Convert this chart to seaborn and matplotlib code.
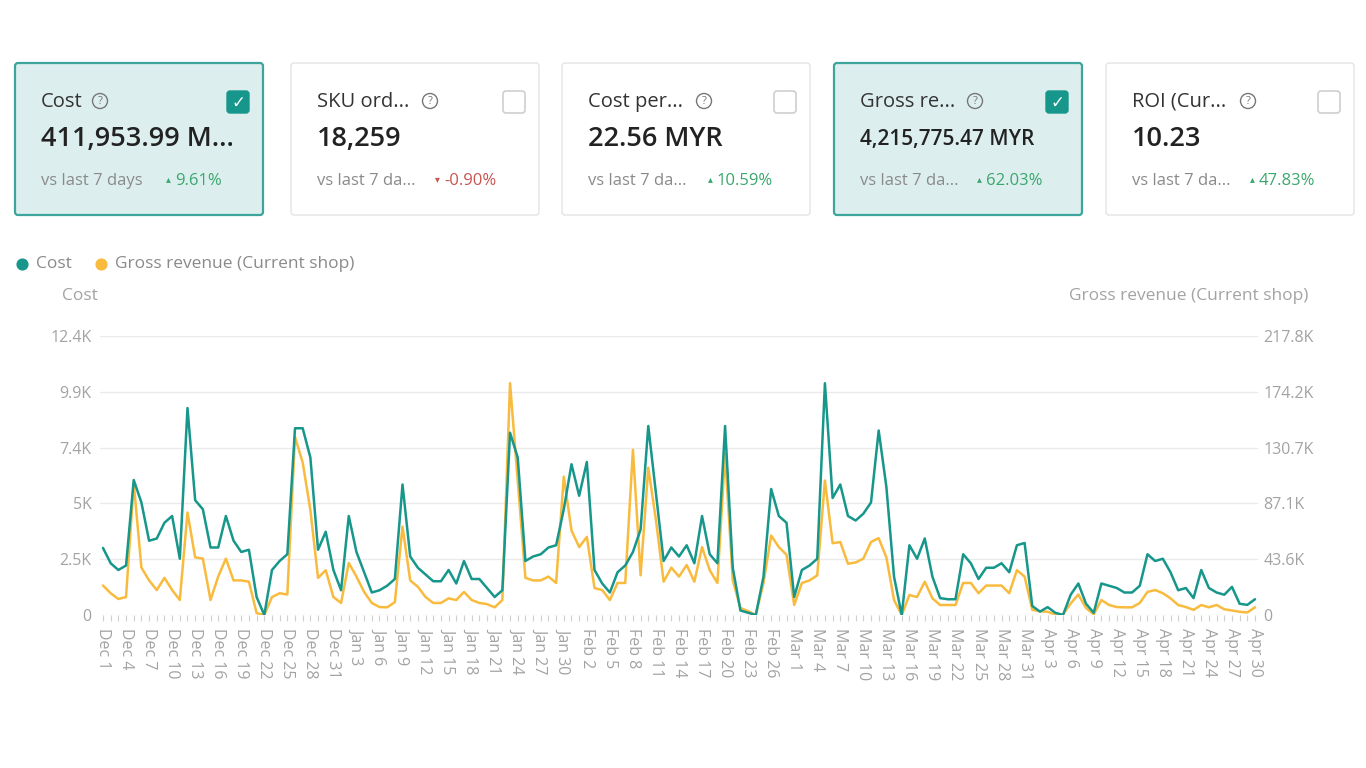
import numpy as np
import pandas as pd
import matplotlib
matplotlib.use("Agg")
import matplotlib.pyplot as plt
import seaborn as sns
from matplotlib.patches import FancyBboxPatch, Circle

sns.set_theme(style="white")
plt.rcParams["font.family"] = ["Open Sans", "DejaVu Sans"]

# daily values, Dec 1 - Apr 30 (non-leap year)
dates = pd.date_range("2022-12-01", "2023-04-30", freq="D")

# Cost, in thousands
costK = [
    2.98, 2.3, 2.0, 2.2, 6.0, 5.0, 3.3, 3.4, 4.1, 4.4,
    2.5, 9.2, 5.1, 4.7, 3.0, 3.0, 4.4, 3.3, 2.8, 2.9,
    0.8, 0.0, 2.0, 2.4, 2.7, 8.3, 8.3, 7.0, 2.9, 3.7,
    2.0, 1.1, 4.4, 2.8, 1.9, 1.0, 1.1, 1.3, 1.6, 5.8,
    2.6, 2.1, 1.8, 1.5, 1.5, 2.0, 1.4, 2.4, 1.6, 1.6,
    1.2, 0.8, 1.1, 8.1, 7.0, 2.4, 2.6, 2.7, 3.0, 3.1,
    4.7, 6.7, 5.3, 6.8, 2.0, 1.4, 1.0, 1.9, 2.2, 2.8,
    3.8, 8.4, 5.4, 2.4, 3.0, 2.6, 3.1, 2.3, 4.4, 2.7,
    2.3, 8.4, 2.1, 0.2, 0.1, 0.0, 1.7, 5.6, 4.4, 4.1,
    0.8, 2.0, 2.2, 2.5, 10.3, 5.2, 5.8, 4.4, 4.2, 4.5,
    5.0, 8.2, 5.7, 1.7, 0.0, 3.1, 2.5, 3.4, 1.7, 0.75,
    0.7, 0.7, 2.7, 2.3, 1.6, 2.1, 2.1, 2.3, 1.9, 3.1,
    3.2, 0.4, 0.15, 0.35, 0.1, 0.0, 0.9, 1.4, 0.5, 0.1,
    1.4, 1.3, 1.2, 1.0, 1.0, 1.3, 2.7, 2.4, 2.5, 1.9,
    1.1, 1.2, 0.75, 2.0, 1.2, 1.0, 0.9, 1.25, 0.5, 0.45,
    0.7,
]

# Gross revenue (Current shop), in thousands
revenueK = [
    23, 17, 12.5, 14, 103, 37, 27, 19.5, 29, 19.5,
    11.7, 80, 45, 44, 11.7, 30, 44, 27, 27, 26,
    1.5, 0, 14, 17, 16, 139, 119, 82, 29, 35,
    14, 9.4, 40.6, 30, 18, 9.4, 6.2, 6, 10, 69,
    27, 22, 14, 9.4, 9.4, 13, 11.7, 18, 11.7, 9.4,
    8.5, 6, 11.7, 181, 105, 29, 27, 27, 30, 25,
    108, 66, 53, 61, 21, 19.5, 11.7, 25, 25, 129,
    31, 115, 74, 26, 37, 30, 39, 26, 53, 35,
    25, 126, 27, 5.5, 3, 0, 25, 62, 53, 47,
    7.8, 25, 27, 31, 105, 56, 57, 40, 41, 44,
    57, 60, 45, 11.7, 0, 15.6, 14, 26, 13, 7.8,
    7.8, 7.8, 25, 25, 17, 23, 23, 23, 17, 35,
    30, 4, 3, 2.5, 0.5, 0.5, 9, 16, 5.5, 0.5,
    11.7, 7.8, 6.2, 6, 6, 9.4, 18, 19.5, 17, 13,
    7.8, 6.2, 4, 7.8, 6, 7.8, 4.5, 3.5, 2.5, 2,
    6,
]

costMax = 12400
revenueMax = 217800

cardTitles = ["Cost", "SKU ord...", "Cost per...", "Gross re...", "ROI (Cur..."]
cardValues = ["411,953.99 M...", "18,259", "22.56 MYR", "4,215,775.47 MYR", "10.23"]
cardCompare = ["vs last 7 days", "vs last 7 da...", "vs last 7 da...", "vs last 7 da...", "vs last 7 da..."]
cardChanges = ["9.61%", "-0.90%", "10.59%", "62.03%", "47.83%"]
cardUp = [True, False, True, True, True]
cardSelected = [True, False, False, True, False]

df = pd.DataFrame({
    "date": dates,
    "cost": np.array(costK) * 1000,
    "revenue": np.array(revenueK) * 1000,
})

teal = "#17968b"
orange = "#f9bb3d"
gray = "#a3a3a3"


def fmtK(v):
    if v == 0:
        return "0"
    s = f"{v / 1000:.1f}"
    if s.endswith(".0"):
        s = s[:-2]
    return s + "K"


fig = plt.figure(figsize=(13.66, 7.68), dpi=100)
fig.patch.set_facecolor("white")

ax = fig.add_axes([100 / 1366, 1 - 615 / 768, 1158 / 1366, 279 / 768])
ax2 = ax.twinx()

sns.lineplot(data=df, x="date", y="revenue", ax=ax2, color=orange, linewidth=1.8, legend=False)
sns.lineplot(data=df, x="date", y="cost", ax=ax, color=teal, linewidth=1.8, legend=False)

ax.set_zorder(ax2.get_zorder() + 1)
ax.patch.set_visible(False)

pad = pd.Timedelta(hours=9.4)
ax.set_xlim(dates[0] - pad, dates[-1] + pad)
ax.set_ylim(0, costMax)
ax2.set_ylim(0, revenueMax)

leftTicks = np.linspace(0, costMax, 6)
rightTicks = np.linspace(0, revenueMax, 6)
ax.set_yticks(leftTicks)
ax.set_yticklabels([fmtK(v) for v in leftTicks])
ax2.set_yticks(rightTicks)
ax2.set_yticklabels([fmtK(v) for v in rightTicks])

ax.set_xticks(dates[::3])
ax.set_xticklabels([d.strftime("%b ") + str(d.day) for d in dates[::3]], rotation=-90)
ax.set_xticks(dates, minor=True)

ax.grid(False)
ax2.grid(False)
ax2.yaxis.grid(True, color="#ebebeb", linewidth=1)
ax.set_xlabel("")
ax.set_ylabel("")
ax2.set_ylabel("")
for a in (ax, ax2):
    for sp in a.spines.values():
        sp.set_visible(False)

ax.tick_params(axis="y", length=0, pad=6, labelcolor=gray, labelsize=11.5)
ax2.tick_params(axis="y", length=0, pad=4, labelcolor=gray, labelsize=11.5)
ax.tick_params(axis="x", which="both", bottom=True, length=4, width=0.8, color="#d0d0d0",
               labelcolor=gray, labelsize=11.5, pad=5, direction="out")

# overlay in pixel coordinates for cards, legend and axis titles
ov = fig.add_axes([0, 0, 1, 1])
ov.set_xlim(0, 1366)
ov.set_ylim(768, 0)
ov.axis("off")

cardLeft = [15, 291, 562, 834, 1106]
iconX = [100, 430, 704, 975, 1248]
changeX = [166, 435, 708, 977, 1250]
cardW, cardTop, cardH = 248, 63, 152

for i in range(5):
    x0 = cardLeft[i]
    sel = cardSelected[i]
    box = FancyBboxPatch((x0, cardTop), cardW, cardH,
                         boxstyle="round,pad=0,rounding_size=3",
                         facecolor="#dcefee" if sel else "white",
                         edgecolor="#3ea59c" if sel else "#e4e4e4",
                         linewidth=1.6 if sel else 1.0)
    ov.add_patch(box)
    ov.text(x0 + 26, 102, cardTitles[i], ha="left", va="center", fontsize=14.5, color="#333333")
    ov.add_patch(Circle((iconX[i], 101), 7.5, facecolor="none", edgecolor="#777777", linewidth=1))
    ov.text(iconX[i], 101.5, "?", ha="center", va="center", fontsize=8, color="#777777")
    cbx = x0 + cardW - 36
    if sel:
        ov.add_patch(FancyBboxPatch((cbx, 91), 22, 22, boxstyle="round,pad=0,rounding_size=3",
                                    facecolor=teal, edgecolor=teal, linewidth=1))
        ov.text(cbx + 11, 102.5, "✓", ha="center", va="center", fontsize=12, color="white",
                fontweight="bold", family=["DejaVu Sans"])
    else:
        ov.add_patch(FancyBboxPatch((cbx, 91), 22, 22, boxstyle="round,pad=0,rounding_size=3",
                                    facecolor="white", edgecolor="#cfcfcf", linewidth=1.2))
    big = 15 if len(cardValues[i]) > 15 else 19.5
    ov.text(x0 + 26, 139, cardValues[i], ha="left", va="center", fontsize=big,
            color="#222222", fontweight="semibold")
    ov.text(x0 + 26, 181, cardCompare[i], ha="left", va="center", fontsize=12, color="#8a8a8a")
    chColor = "#3aa76d" if cardUp[i] else "#c95350"
    ov.text(changeX[i], 179, "▴" if cardUp[i] else "▾", ha="left", va="center", fontsize=7,
            color=chColor, family=["DejaVu Sans"])
    ov.text(changeX[i] + 9, 181, cardChanges[i], ha="left", va="center", fontsize=12, color=chColor)

# legend
ov.scatter([22], [264], s=60, color=teal)
ov.text(36, 264, "Cost", ha="left", va="center", fontsize=12.5, color="#8a8a8a")
ov.scatter([101], [264], s=60, color=orange)
ov.text(115, 264, "Gross revenue (Current shop)", ha="left", va="center", fontsize=12.5, color="#8a8a8a")

# axis titles
ov.text(98, 296, "Cost", ha="right", va="center", fontsize=12.5, color=gray)
ov.text(1308, 296, "Gross revenue (Current shop)", ha="right", va="center", fontsize=12.5, color=gray)

fig.savefig("out.png", dpi=100, facecolor="white")
